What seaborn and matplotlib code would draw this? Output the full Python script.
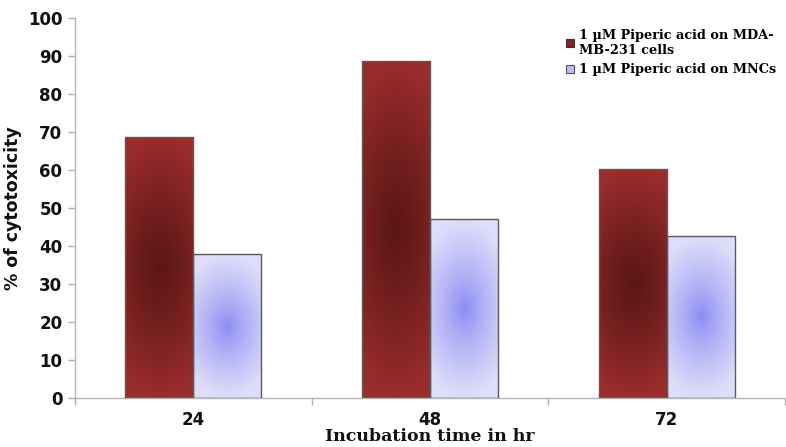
import numpy as np
import pandas as pd
import matplotlib
matplotlib.use("Agg")
import matplotlib.pyplot as plt
import seaborn as sns
from matplotlib.patches import Patch
from matplotlib.colors import LinearSegmentedColormap

# Incubation times (hr) and % cytotoxicity per cell type
times = ["24", "48", "72"]
series_names = ["1 \u00b5M Piperic acid on MDA-\nMB-231 cells",
                "1 \u00b5M Piperic acid on MNCs"]
mda_values = [68.7, 88.7, 60.3]
mnc_values = [37.8, 47.0, 42.7]
y_ticks = [0, 10, 20, 30, 40, 50, 60, 70, 80, 90, 100]

df = pd.DataFrame({
    "time": times * 2,
    "value": mda_values + mnc_values,
    "series": [series_names[0]] * 3 + [series_names[1]] * 3,
})

sns.set_theme(style="white")
plt.rcParams["font.family"] = ["DejaVu Sans"]

fig = plt.figure(figsize=(7.86, 4.47), dpi=100)
ax = fig.add_axes([0.0954, 0.1096, 0.9033, 0.850])

edge_cols = ["#9b2c2c", "#dedefa"]
center_cols = ["#5a1716", "#8a8af2"]

sns.barplot(data=df, x="time", y="value", hue="series", order=times,
            hue_order=series_names, palette=edge_cols, width=0.575,
            gap=0, ax=ax, legend=False, saturation=1)

# radial "from centre" fill for each bar, clipped to the bar outline
bars = [p for p in ax.patches if p.get_height() > 0]
for bar in bars:
    fc = np.array(bar.get_facecolor()[:3])
    idx = int(np.argmin([np.abs(fc - np.array(matplotlib.colors.to_rgb(c))).sum()
                         for c in edge_cols]))
    cmap = LinearSegmentedColormap.from_list(
        "g", [center_cols[idx], edge_cols[idx]])
    x0, y0 = bar.get_x(), bar.get_y()
    w, h = bar.get_width(), bar.get_height()
    ny, nx = 200, 60
    yy, xx = np.mgrid[0:1:ny * 1j, 0:1:nx * 1j]
    dx = (xx - 0.5) / 0.5
    dy = (yy - 0.5) / 0.5
    if idx == 0:
        t = np.clip(np.sqrt(0.3 * dx ** 2 + dy ** 2), 0, 1) ** 1.2
    else:
        t = np.clip(np.sqrt(0.45 * dx ** 2 + dy ** 2), 0, 1) ** 0.8
    im = ax.imshow(t, cmap=cmap, vmin=0, vmax=1, aspect="auto",
                   extent=(x0, x0 + w, y0, y0 + h), origin="lower",
                   zorder=2, interpolation="bilinear")
    im.set_clip_path(bar)
    bar.set_facecolor("none")
    bar.set_edgecolor("#5a5a5a")
    bar.set_linewidth(1.0)
    bar.set_zorder(3)

ax.set_xlim(-0.5, 2.5)
ax.set_ylim(0, 100)
ax.set_yticks(y_ticks)
ax.set_yticklabels([str(v) for v in y_ticks], fontsize=12, fontweight="bold",
                   color="#111111")
ax.set_xticks(range(len(times)))
ax.set_xticklabels(times, fontsize=12, fontweight="bold", color="#111111")
ax.set_xticks([-0.5, 0.5, 1.5, 2.5], minor=True)
ax.tick_params(axis="x", which="major", length=0, pad=9)
ax.tick_params(axis="x", which="minor", length=5, color="#b0b0b0", width=1,
               direction="out", bottom=True)
ax.tick_params(axis="y", which="major", length=5, color="#b0b0b0", width=1,
               direction="out", left=True, pad=4)

for side in ["top", "right"]:
    ax.spines[side].set_visible(False)
for side in ["left", "bottom"]:
    ax.spines[side].set_color("#b5b5b5")
    ax.spines[side].set_linewidth(1.0)

ax.set_ylabel("% of cytotoxicity", fontsize=12.5, fontweight="bold",
              color="#111111", labelpad=4)
ax.set_xlabel("Incubation time in hr", fontsize=12.5, fontweight="bold",
              family="DejaVu Serif", color="#111111", labelpad=-0.5)

handles = [Patch(facecolor="#8b2222", edgecolor="#333333", linewidth=0.8),
           Patch(facecolor="#bdbdf3", edgecolor="#555555", linewidth=0.8)]
leg = ax.legend(handles, series_names, loc="upper left",
                bbox_to_anchor=(0.684, 0.985), frameon=False,
                prop={"family": "DejaVu Serif", "weight": "bold", "size": 9.3},
                handlelength=0.6, handleheight=0.6, handletextpad=0.4,
                labelspacing=0.5, borderaxespad=0)
for txt in leg.get_texts():
    txt.set_color("#000000")

fig.savefig("out.png", dpi=100)
